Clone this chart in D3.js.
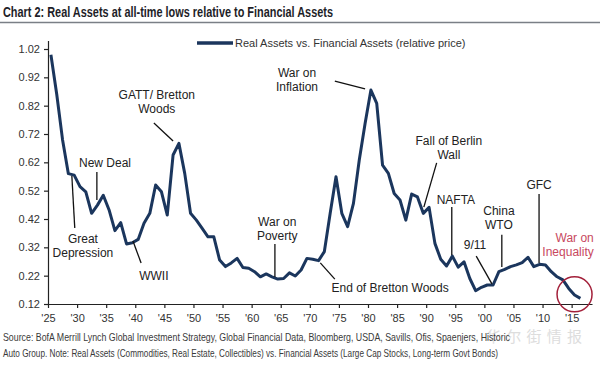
<!DOCTYPE html>
<html>
<head>
<meta charset="utf-8">
<script src="https://cdnjs.cloudflare.com/ajax/libs/d3/7.8.5/d3.min.js"></script>
<style>
  body { margin: 0; background: #fff; }
  svg { display: block; }
</style>
</head>
<body>
<div id="chart"></div>
<script>
// relative price, real vs financial assets (annual)
const years = [
  1925, 1926, 1927, 1928, 1929, 1930, 1931, 1932, 1933, 1934,
  1935, 1936, 1937, 1938, 1939, 1940, 1941, 1942, 1943, 1944,
  1945, 1946, 1947, 1948, 1949, 1950, 1951, 1952, 1953, 1954,
  1955, 1956, 1957, 1958, 1959, 1960, 1961, 1962, 1963, 1964,
  1965, 1966, 1967, 1968, 1969, 1970, 1971, 1972, 1973, 1974,
  1975, 1976, 1977, 1978, 1979, 1980, 1981, 1982, 1983, 1984,
  1985, 1986, 1987, 1988, 1989, 1990, 1991, 1992, 1993, 1994,
  1995, 1996, 1997, 1998, 1999, 2000, 2001, 2002, 2003, 2004,
  2005, 2006, 2007, 2008, 2009, 2010, 2011, 2012, 2013, 2014,
  2015, 2016
];
const ratio = [
  1.00, 0.86, 0.70, 0.58, 0.575, 0.534, 0.516, 0.44, 0.469, 0.504,
  0.452, 0.379, 0.407, 0.332, 0.336, 0.348, 0.405, 0.44, 0.54, 0.516,
  0.434, 0.646, 0.687, 0.581, 0.44, 0.416, 0.387, 0.357, 0.357, 0.275,
  0.252, 0.265, 0.281, 0.249, 0.246, 0.234, 0.216, 0.226, 0.216, 0.208,
  0.21, 0.23, 0.219, 0.24, 0.281, 0.278, 0.273, 0.305, 0.44, 0.569,
  0.44, 0.393, 0.475, 0.628, 0.757, 0.875, 0.828, 0.61, 0.581, 0.51,
  0.487, 0.416, 0.508, 0.498, 0.44, 0.461, 0.334, 0.278, 0.254, 0.289,
  0.25, 0.269, 0.21, 0.167, 0.179, 0.187, 0.187, 0.234, 0.242, 0.252,
  0.258, 0.266, 0.285, 0.252, 0.26, 0.258, 0.234, 0.216, 0.205, 0.175,
  0.152, 0.14
];

const xTickYears = [1925, 1930, 1935, 1940, 1945, 1950, 1955, 1960, 1965, 1970,
  1975, 1980, 1985, 1990, 1995, 2000, 2005, 2010, 2015];
const xTickLabels = ["'25", "'30", "'35", "'40", "'45", "'50", "'55", "'60", "'65", "'70",
  "'75", "'80", "'85", "'90", "'95", "'00", "'05", "'10", "'15"];
const yTickValues = [0.12, 0.22, 0.32, 0.42, 0.52, 0.62, 0.72, 0.82, 0.92, 1.02];

// event labels: text anchor and pointer ends given in (year, value)
const eventLabels = [
  { lines: ["GATT/ Bretton", "Woods"], at: [1943.7, 0.86], from: [1943.2, 0.759], to: [1946.5, 0.695] },
  { lines: ["New Deal"], at: [1934.8, 0.618], from: [1933.4, 0.586], to: [1933.4, 0.487] },
  { lines: ["Great", "Depression"], at: [1931.0, 0.349], from: [1929.1, 0.572], to: [1929.6, 0.388] },
  { lines: ["WWII"], at: [1943.2, 0.219], from: [1939.6, 0.342], to: [1941.0, 0.265] },
  { lines: ["War on", "Poverty"], at: [1964.4, 0.409], from: [1964.0, 0.332], to: [1964.0, 0.215] },
  { lines: ["End of Bretton Woods"], at: [1983.8, 0.176], from: [1971.8, 0.265], to: [1974.3, 0.208] },
  { lines: ["War on", "Inflation"], at: [1967.8, 0.935], from: [1974.3, 0.907], to: [1979.5, 0.879] },
  { lines: ["Fall of Berlin", "Wall"], at: [1993.9, 0.695], from: [1991.8, 0.618], to: [1989.6, 0.462] },
  { lines: ["NAFTA"], at: [1995.1, 0.487], from: [1994.4, 0.462], to: [1994.4, 0.293] },
  { lines: ["China", "WTO"], at: [2002.5, 0.448], from: [2003.0, 0.364], to: [2003.0, 0.251] },
  { lines: ["9/11"], at: [1998.4, 0.328], from: [1998.6, 0.289], to: [2001.3, 0.191] },
  { lines: ["GFC"], at: [2009.4, 0.54], from: [2009.4, 0.508], to: [2009.4, 0.265] }
];
const inequalityLabel = { lines: ["War on", "Inequality"], at: [2018.8, 0.353], ring: [2015.5, 0.154] };

const titleText = "Chart 2: Real Assets at all-time lows relative to Financial Assets";
const legendText = "Real Assets vs. Financial Assets (relative price)";
const sourceLines = [
  "Source: BofA Merrill Lynch Global Investment Strategy, Global Financial Data, Bloomberg, USDA, Savills, Ofis, Spaenjers, Historic",
  "Auto Group. Note: Real Assets (Commodities, Real Estate, Collectibles) vs. Financial Assets (Large Cap Stocks, Long-term Govt Bonds)"
];
const watermark = "华尔街情报";

const W = 600, H = 370;
const lineColor = "#1b365d";
const font = "'Liberation Sans', Arial, sans-serif";
const narrowFont = "'Liberation Sans Narrow', 'Liberation Sans', Arial, sans-serif";

const svg = d3.select('#chart')
  .append('svg')
  .attr('width', W)
  .attr('height', H)
  .style('font-family', font);

const x = d3.scaleLinear().domain([1925, 2018.5]).range([48, 592]);
const y = d3.scaleLinear().domain([0.12, 1.05]).range([304, 40.5]);

// title + rule
svg.append('text')
  .attr('x', 3)
  .attr('y', 17)
  .attr('textLength', 330)
  .attr('lengthAdjust', 'spacingAndGlyphs')
  .style('font-family', narrowFont)
  .style('font-size', '15px')
  .style('font-weight', '700')
  .style('fill', '#1e1e28')
  .text(titleText);

svg.append('line')
  .attr('x1', 0).attr('x2', W)
  .attr('y1', 22.5).attr('y2', 22.5)
  .style('stroke', '#7a7f86')
  .style('stroke-width', 1.5);

// watermark (drawn first so axis text stays on top)
svg.append('text')
  .attr('x', 486)
  .attr('y', 342)
  .attr('textLength', 96)
  .style('font-family', "'Noto Sans CJK SC', sans-serif")
  .style('font-size', '15px')
  .style('fill', '#cfcfcf')
  .style('opacity', 0.7)
  .text(watermark);

// axes
const yAxis = svg.append('g')
  .attr('transform', `translate(${x(1925)},0)`)
  .call(d3.axisLeft(y).tickValues(yTickValues).tickFormat(d3.format('.2f')).tickSize(4).tickSizeOuter(0));

const xAxis = svg.append('g')
  .attr('transform', `translate(0,${y(0.12)})`)
  .call(d3.axisBottom(x).tickValues(xTickYears).tickFormat((d, i) => xTickLabels[i]).tickSize(4).tickSizeOuter(0));

[yAxis, xAxis].forEach((g) => {
  g.select('.domain').style('stroke', '#222').style('stroke-width', 1.2);
  g.selectAll('.tick line').style('stroke', '#222').style('stroke-width', 1.2);
  g.selectAll('.tick text')
    .style('font-family', font)
    .style('font-size', '11px')
    .style('fill', '#333');
});
yAxis.selectAll('.tick text').attr('x', -8);
xAxis.selectAll('.tick text').attr('y', 10);

// series
const series = years.map((yr, i) => ({ year: yr, value: ratio[i] }));
const line = d3.line()
  .x((d) => x(d.year + 0.5))
  .y((d) => y(d.value));

svg.append('path')
  .datum(series)
  .attr('d', line)
  .style('fill', 'none')
  .style('stroke', lineColor)
  .style('stroke-width', 3)
  .style('stroke-linejoin', 'round');

// legend
svg.append('line')
  .attr('x1', 197).attr('x2', 233)
  .attr('y1', 43).attr('y2', 43)
  .style('stroke', lineColor)
  .style('stroke-width', 3.5);

svg.append('text')
  .attr('x', 235)
  .attr('y', 47)
  .style('font-size', '11px')
  .style('fill', '#333')
  .text(legendText);

// event annotations
const notes = svg.append('g');
eventLabels.forEach((ev) => {
  notes.append('line')
    .attr('x1', x(ev.from[0])).attr('y1', y(ev.from[1]))
    .attr('x2', x(ev.to[0])).attr('y2', y(ev.to[1]))
    .style('stroke', '#111')
    .style('stroke-width', 1.3);

  const t = notes.append('text')
    .attr('text-anchor', 'middle')
    .style('font-size', '12px')
    .style('fill', '#222');
  ev.lines.forEach((ln, i) => {
    t.append('tspan')
      .attr('x', x(ev.at[0]))
      .attr('y', y(ev.at[1]) + 4.3 + i * 14)
      .text(ln);
  });
});

const ineq = notes.append('text')
  .attr('text-anchor', 'end')
  .style('font-size', '12px')
  .style('fill', '#c8485e');
inequalityLabel.lines.forEach((ln, i) => {
  ineq.append('tspan')
    .attr('x', x(inequalityLabel.at[0]))
    .attr('y', y(inequalityLabel.at[1]) + 4.3 + i * 14)
    .text(ln);
});

notes.append('circle')
  .attr('cx', x(inequalityLabel.ring[0]))
  .attr('cy', y(inequalityLabel.ring[1]))
  .attr('r', 17.5)
  .style('fill', 'none')
  .style('stroke', '#a3203a')
  .style('stroke-width', 1.5);

// source note, squeezed horizontally like the condensed original
const squeeze = 0.78;
sourceLines.forEach((ln, i) => {
  const width = i === 0 ? 507 : 495;
  svg.append('text')
    .attr('transform', `translate(3,${341 + i * 16}) scale(${squeeze},1)`)
    .attr('textLength', width / squeeze)
    .attr('lengthAdjust', 'spacingAndGlyphs')
    .style('font-family', narrowFont)
    .style('font-size', '10px')
    .style('fill', '#3a3a3a')
    .text(ln);
});
</script>
</body>
</html>
